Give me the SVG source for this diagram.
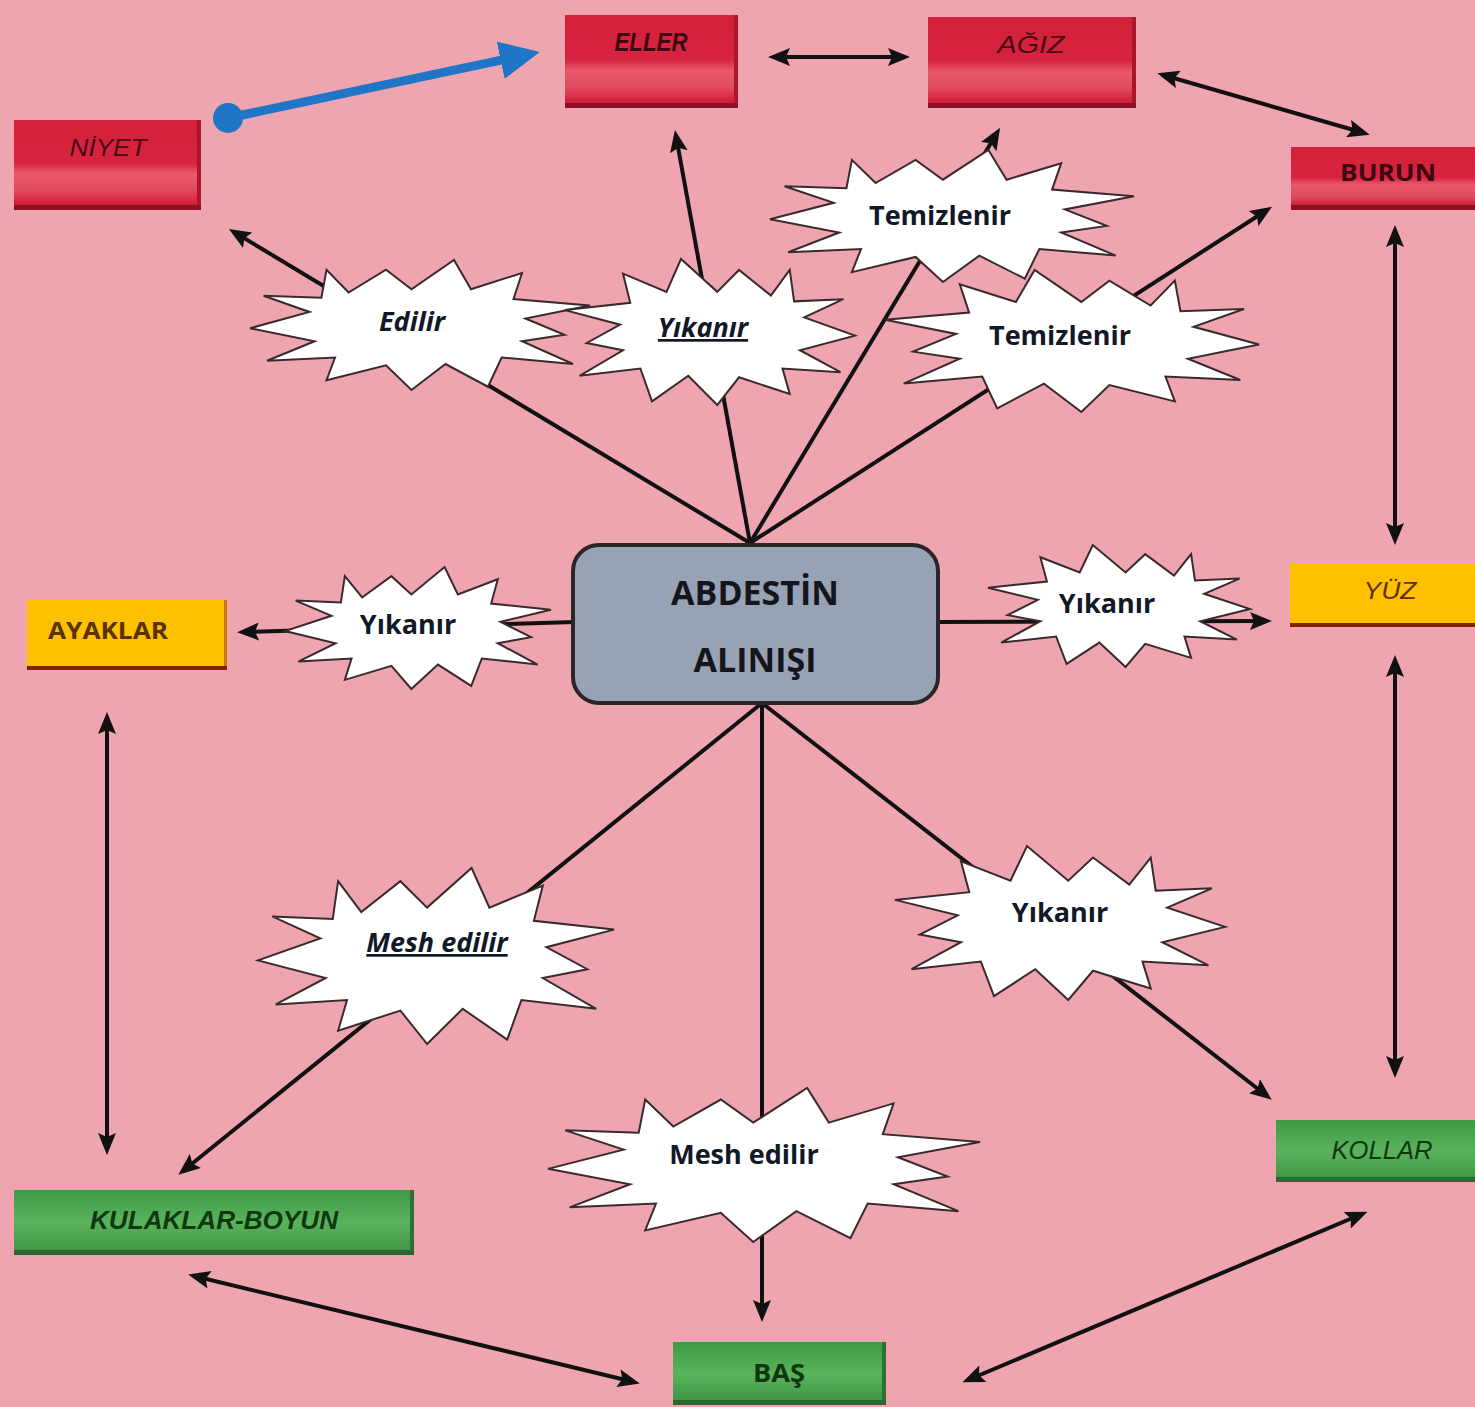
<svg xmlns="http://www.w3.org/2000/svg" xmlns:xlink="http://www.w3.org/1999/xlink" width="1475" height="1407" viewBox="0 0 1475 1407">
<style>
.conn{stroke:#111;stroke-width:4;fill:none;marker-end:url(#ah)}
.dbl{stroke:#111;stroke-width:4;fill:none;marker-start:url(#ah);marker-end:url(#ah)}
.bt{font-family:"Open Sans","Liberation Sans",sans-serif;font-weight:bold;font-size:27px;fill:#111827;text-anchor:middle}
.it{font-style:italic}
.ul{text-decoration:underline}
.lbl{font-family:"Liberation Sans",Arial,sans-serif;text-anchor:middle}
.hub{font-family:"Open Sans","Liberation Sans",sans-serif;font-weight:bold;font-size:34px;fill:#15151c;text-anchor:middle}
</style>
<defs>
<marker id="ah" markerUnits="userSpaceOnUse" markerWidth="22" markerHeight="18" refX="16" refY="9" orient="auto-start-reverse">
<path d="M0,0 L22,9 L0,18 L4,9 z" fill="#111"/>
</marker>
<marker id="bh" markerUnits="userSpaceOnUse" markerWidth="40" markerHeight="38" refX="30" refY="19" orient="auto">
<path d="M0,0 L40,19 L0,38 z" fill="#1F76C6"/>
</marker>
<linearGradient id="redG" x1="0" y1="0" x2="0" y2="1">
<stop offset="0" stop-color="#D42139"/>
<stop offset="0.48" stop-color="#D62340"/>
<stop offset="0.6" stop-color="#E8596B"/>
<stop offset="0.78" stop-color="#E14A5E"/>
<stop offset="0.92" stop-color="#D3213A"/>
<stop offset="1" stop-color="#C51B33"/>
</linearGradient>
<linearGradient id="greenG" x1="0" y1="0" x2="0" y2="1">
<stop offset="0" stop-color="#3F9A45"/>
<stop offset="0.5" stop-color="#5AB35C"/>
<stop offset="1" stop-color="#3B9242"/>
</linearGradient>
<path id="burst" vector-effect="non-scaling-stroke" fill="#FFFFFF" stroke="#3A2A2E" stroke-width="2" stroke-linejoin="miter" d="M -55,-85 L -42,-50 L -20,-85 L -5,-55 L 20,-100 L 30,-55 L 60,-80 L 55,-40 L 100,-30 L 62,-10 L 85,15 L 60,25 L 90,60 L 48,50 L 40,95 L 15,60 L -5,100 L -20,62 L -55,85 L -50,50 L -90,55 L -62,25 L -100,5 L -65,-20 L -92,-45 L -58,-42 Z"/>
</defs>

<rect x="0" y="0" width="1475" height="1407" fill="#EFA5B0"/>

<g id="connectors">
<line class="conn" x1="750" y1="543" x2="234" y2="232"/>
<line class="conn" x1="750" y1="543" x2="676" y2="136"/>
<line class="conn" x1="750" y1="543" x2="997" y2="133"/>
<line class="conn" x1="750" y1="543" x2="1267" y2="210"/>
<line class="conn" x1="575" y1="622" x2="243" y2="632"/>
<line class="conn" x1="936" y1="622" x2="1266" y2="621"/>
<line class="conn" x1="762" y1="703" x2="183" y2="1171"/>
<line class="conn" x1="762" y1="703" x2="762" y2="1316"/>
<line class="conn" x1="762" y1="703" x2="1267" y2="1096"/>
<line class="dbl" x1="774" y1="57" x2="904" y2="57"/>
<line class="dbl" x1="1163" y1="75" x2="1364" y2="133"/>
<line class="dbl" x1="1395" y1="231" x2="1395" y2="539"/>
<line class="dbl" x1="1395" y1="661" x2="1395" y2="1072"/>
<line class="dbl" x1="107" y1="718" x2="107" y2="1149"/>
<line class="dbl" x1="1362" y1="1214" x2="968" y2="1380"/>
<line class="dbl" x1="634" y1="1382" x2="194" y2="1276"/>
<line stroke="#1F76C6" stroke-width="9" x1="228" y1="118" x2="530" y2="54" marker-end="url(#bh)"/>
<circle cx="228" cy="118" r="15" fill="#1F76C6"/>
</g>

<g id="label-edilir">
<use xlink:href="#burst" href="#burst" transform="translate(420,325) scale(1.7,0.65)"/>
<text class="bt it" x="412" y="331">Edilir</text>
</g>
<g id="label-yikanir-top">
<use xlink:href="#burst" href="#burst" transform="translate(710,332) scale(-1.45,0.73)"/>
<text class="bt it ul" x="703" y="337">Yıkanır</text>
</g>
<g id="label-temizlenir-top">
<use xlink:href="#burst" href="#burst" transform="translate(952,216) scale(1.82,0.66)"/>
<text class="bt" x="940" y="225">Temizlenir</text>
</g>
<g id="label-temizlenir-right">
<use xlink:href="#burst" href="#burst" transform="translate(1072,341) scale(-1.87,0.71)"/>
<text class="bt" x="1060" y="345">Temizlenir</text>
</g>
<g id="label-yikanir-left">
<use xlink:href="#burst" href="#burst" transform="translate(418,628) scale(1.33,0.61)"/>
<text class="bt" x="408" y="634">Yıkanır</text>
</g>
<g id="label-yikanir-right">
<use xlink:href="#burst" href="#burst" transform="translate(1119,606) scale(-1.31,0.61)"/>
<text class="bt" x="1107" y="613">Yıkanır</text>
</g>
<g id="label-mesh-left">
<use xlink:href="#burst" href="#burst" transform="translate(436,956) scale(1.78,0.88)"/>
<text class="bt it ul" x="437" y="952">Mesh edilir</text>
</g>
<g id="label-yikanir-br">
<use xlink:href="#burst" href="#burst" transform="translate(1060,923) scale(-1.65,0.77)"/>
<text class="bt" x="1060" y="922">Yıkanır</text>
</g>
<g id="label-mesh-bottom">
<use xlink:href="#burst" href="#burst" transform="translate(764,1165) scale(2.16,0.77)"/>
<text class="bt" x="744" y="1164">Mesh edilir</text>
</g>

<g id="node-abdest">
<rect x="573" y="545" width="365" height="158" rx="26" fill="#98A2B5" stroke="#2A2528" stroke-width="4"/>
<text class="hub" x="755" y="605">ABDESTİN</text>
<text class="hub" x="755" y="672">ALINIŞI</text>
</g>

<g id="node-niyet">
<rect x="14" y="120" width="187" height="90" fill="url(#redG)"/>
<rect x="197" y="120" width="4" height="90" fill="#A8172C"/>
<rect x="14" y="205" width="187" height="5" fill="#8C1024"/>
<text class="lbl it" x="108" y="156" font-size="24" fill="#4A0812" textLength="77" lengthAdjust="spacingAndGlyphs">NİYET</text>
</g>
<g id="node-eller">
<rect x="565" y="15" width="173" height="93" fill="url(#redG)"/>
<rect x="734" y="15" width="4" height="93" fill="#A8172C"/>
<rect x="565" y="103" width="173" height="5" fill="#8C1024"/>
<text class="lbl it" x="651" y="51" font-size="25" font-weight="bold" fill="#3E0610" textLength="73" lengthAdjust="spacingAndGlyphs">ELLER</text>
</g>
<g id="node-agiz">
<rect x="928" y="17" width="208" height="91" fill="url(#redG)"/>
<rect x="1132" y="17" width="4" height="91" fill="#A8172C"/>
<rect x="928" y="103" width="208" height="5" fill="#8C1024"/>
<text class="lbl it" x="1031" y="53" font-size="24" fill="#4A0812" textLength="67" lengthAdjust="spacingAndGlyphs">AĞIZ</text>
</g>
<g id="node-burun">
<rect x="1291" y="147" width="184" height="63" fill="url(#redG)"/>
<rect x="1291" y="205" width="184" height="5" fill="#8C1024"/>
<text x="1388" y="181" font-family="Open Sans, Liberation Sans, sans-serif" font-weight="bold" font-size="24" fill="#3E0610" text-anchor="middle" textLength="96" lengthAdjust="spacingAndGlyphs">BURUN</text>
</g>
<g id="node-yuz">
<rect x="1290" y="563" width="185" height="64" fill="#FFC000"/>
<rect x="1290" y="623" width="185" height="4" fill="#7E2400"/>
<text class="lbl it" x="1390" y="599" font-size="24" fill="#5A3200" textLength="53" lengthAdjust="spacingAndGlyphs">YÜZ</text>
</g>
<g id="node-ayaklar">
<rect x="27" y="600" width="200" height="70" fill="#FFC000"/>
<rect x="224" y="600" width="3" height="70" fill="#C97700"/>
<rect x="27" y="666" width="200" height="4" fill="#7E2400"/>
<text x="108" y="639" font-family="Open Sans, Liberation Sans, sans-serif" font-weight="bold" font-size="24" fill="#5A3200" text-anchor="middle" textLength="120" lengthAdjust="spacingAndGlyphs">AYAKLAR</text>
</g>
<g id="node-kollar">
<rect x="1276" y="1120" width="199" height="62" fill="url(#greenG)"/>
<rect x="1276" y="1177" width="199" height="5" fill="#2C682F"/>
<text class="lbl it" x="1382" y="1159" font-size="25" fill="#10380F" textLength="101" lengthAdjust="spacingAndGlyphs">KOLLAR</text>
</g>
<g id="node-kulaklar">
<rect x="14" y="1190" width="400" height="65" fill="url(#greenG)"/>
<rect x="410" y="1190" width="4" height="65" fill="#2F7033"/>
<rect x="14" y="1250" width="400" height="5" fill="#2C682F"/>
<text class="lbl it" x="214" y="1229" font-size="25" font-weight="bold" fill="#10380F" textLength="248" lengthAdjust="spacingAndGlyphs">KULAKLAR-BOYUN</text>
</g>
<g id="node-bas">
<rect x="673" y="1342" width="213" height="63" fill="url(#greenG)"/>
<rect x="882" y="1342" width="4" height="63" fill="#2F7033"/>
<rect x="673" y="1400" width="213" height="5" fill="#2C682F"/>
<text x="779" y="1382" font-family="Open Sans, Liberation Sans, sans-serif" font-weight="bold" font-size="25" fill="#10380F" text-anchor="middle" textLength="52" lengthAdjust="spacingAndGlyphs">BAŞ</text>
</g>
</svg>
